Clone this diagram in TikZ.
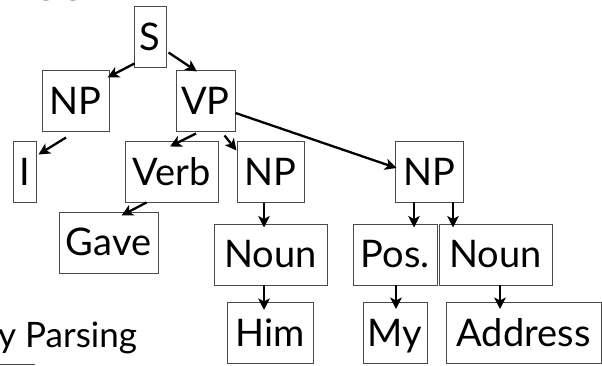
\documentclass[tikz,border=0pt]{standalone}
\usepackage{fontspec}
\setmainfont{Lato}
\usetikzlibrary{arrows.meta}
\definecolor{boxgray}{HTML}{4A4A4A}
\begin{document}
\begin{tikzpicture}[x=1pt,y=-1pt,
  box/.style={draw=boxgray, line width=1pt, inner sep=0pt,
    text height=43.5pt, text depth=17.5pt, font=\fontsize{38}{40}\selectfont},
  arr/.style={line width=2.3pt, -{Stealth[length=11.5pt,width=11.5pt,inset=3pt]}}]
\useasboundingbox (0,0) rectangle (602,366);
\clip (0,0) rectangle (602,366);

% slide title and caption, partly outside the frame
\node[anchor=base west, inner sep=0pt, font=\fontsize{52}{54}\selectfont] (title) at (-12,0.3) {Tree};
\node[anchor=base west, inner sep=0pt, font=\fontsize{35}{37}\selectfont] (caption) at (-2,347) {y Parsing};
\coordinate (ulA) at (0,364.5);
\coordinate (ulB) at (35,364.5);
\draw[boxgray, line width=0.8pt] (ulA) -- (ulB);

% parse tree nodes
\node[box, minimum width=32pt]  (s)     at (150,37.5)   {S};
\node[box, minimum width=67pt]  (np1)   at (75.5,101.5) {NP};
\node[box, minimum width=59pt]  (vp)    at (205.5,101.5){VP};
\node[box, minimum width=23pt]  (i)     at (24.5,172.5) {I};
\node[box, minimum width=93pt]  (verb)  at (171.5,172.5){Verb};
\node[box, minimum width=67pt]  (np2)   at (270.5,172.5){NP};
\node[box, minimum width=68pt]  (np3)   at (429,172.5)  {NP};
\node[box, minimum width=99pt]  (gave)  at (108.5,242.5){Gave};
\node[box, minimum width=113pt] (noun1) at (270.5,254.5){Noun};
\node[box, minimum width=84pt]  (pos)   at (395,254.5)  {Pos.};
\node[box, minimum width=113pt] (noun2) at (495.5,254.5){Noun};
\node[box, minimum width=86pt]  (him)   at (270,333)    {Him};
\node[box, minimum width=64pt]  (my)    at (395,333)    {My};
\node[box, minimum width=155pt] (addr)  at (523.5,333)  {Address};

% edges
\draw[arr] ([shift={(1,-5)}]s.south west) -- ([shift={(-2,7)}]np1.north east);
\draw[arr] ([shift={(2,-16)}]s.south east) -- ([shift={(-8.5,1)}]vp.north);
\draw[arr] ([shift={(-9.5,5)}]np1.south) -- ([shift={(2,13)}]i.north east);
\draw[arr] ([shift={(-9.5,1)}]vp.south) -- ([shift={(-1.5,5)}]verb.north);
\draw[arr] ([shift={(-11,3)}]vp.south east) -- ([shift={(0,9)}]np2.north west);
\draw[arr] ([shift={(0,11.5)}]vp.east) -- ([shift={(2,-4.5)}]np3.west);
\draw[arr] ([shift={(22,-1)}]verb.south west) -- ([shift={(13,4)}]gave.north);
\draw[arr] ([shift={(-6.5,0)}]np2.south) -- ([shift={(-6.5,4)}]noun1.north);
\draw[arr] ([shift={(-6.5,-1)}]noun1.south) -- ([shift={(-6,8)}]him.north);
\draw[arr] ([shift={(-15,-1)}]np3.south) -- ([shift={(19,4)}]pos.north);
\draw[arr] ([shift={(24,-1)}]np3.south) -- ([shift={(-42.5,4)}]noun2.north);
\draw[arr] ([shift={(1,-1)}]pos.south) -- ([shift={(1,7)}]my.north);
\draw[arr] ([shift={(4.5,-1)}]noun2.south) -- ([shift={(-23.5,7)}]addr.north);
\end{tikzpicture}
\end{document}
